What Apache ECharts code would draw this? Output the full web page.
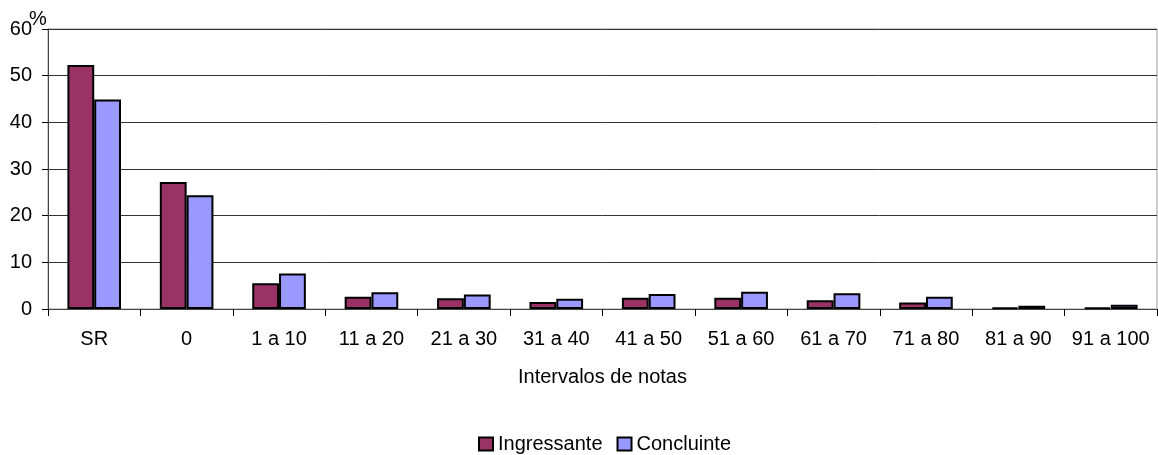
<!DOCTYPE html>
<html>
<head>
<meta charset="utf-8">
<script src="https://cdn.jsdelivr.net/npm/echarts@6/dist/echarts.min.js"></script>
<style>
  html, body { margin: 0; padding: 0; background: #fff; }
  #chart { width: 1158px; height: 455px; }
</style>
</head>
<body>
<div id="chart"></div>
<script>
// faixas de notas
const categories = ['SR', '0', '1 a 10', '11 a 20', '21 a 30', '31 a 40', '41 a 50', '51 a 60', '61 a 70', '71 a 80', '81 a 90', '91 a 100']
const ingressante = [52.3, 27.2, 5.5, 2.6, 2.3, 1.5, 2.4, 2.4, 1.9, 1.4, 0.3, 0.3]
const concluinte = [44.9, 24.4, 7.6, 3.6, 3.1, 2.2, 3.2, 3.7, 3.4, 2.6, 0.7, 0.9]
const yTicks = [0, 10, 20, 30, 40, 50, 60]

const font = 'Liberation Sans, Arial, sans-serif'
const chart = echarts.init(document.getElementById('chart'))

chart.setOption({
  animation: false,
  textStyle: { fontFamily: font },
  grid: {
    left: 48, top: 29, right: 1, bottom: 146,
    show: true, borderColor: '#999', borderWidth: 1
  },
  // unidade do eixo y ("%"), encostada no rótulo 60
  graphic: [{
    type: 'text',
    left: 29,
    top: 9,
    style: { text: '%', fontSize: 20, fontFamily: font, fill: '#000' }
  }],
  legend: {
    top: 429,
    left: 473,
    itemWidth: 14,
    itemHeight: 13,
    itemGap: 14,
    icon: 'rect',
    textStyle: { fontSize: 20, color: '#000' },
    data: ['Ingressante', 'Concluinte']
  },
  xAxis: {
    type: 'category',
    data: categories,
    name: 'Intervalos de notas',
    nameLocation: 'middle',
    nameGap: 58,
    nameTextStyle: { fontSize: 20, color: '#000', verticalAlign: 'top' },
    axisLine: { lineStyle: { color: '#444', width: 1 } },
    axisTick: { show: true, interval: 0, length: 7, lineStyle: { color: '#000' } },
    axisLabel: { interval: 0, fontSize: 20, color: '#000', margin: 20 }
  },
  yAxis: {
    type: 'value',
    min: yTicks[0],
    max: yTicks[yTicks.length - 1],
    interval: 10,
    axisLine: { show: true, lineStyle: { color: '#444', width: 1 } },
    axisTick: { show: true, length: 6, lineStyle: { color: '#000' } },
    axisLabel: { fontSize: 20, color: '#000', margin: 16 },
    splitLine: { show: true, lineStyle: { color: '#333', width: 1 } }
  },
  series: [
    {
      name: 'Ingressante',
      type: 'bar',
      data: ingressante,
      barGap: '0%',
      barCategoryGap: '42%',
      itemStyle: { color: '#993366', borderColor: '#000', borderWidth: 2 }
    },
    {
      name: 'Concluinte',
      type: 'bar',
      data: concluinte,
      itemStyle: { color: '#9999FF', borderColor: '#000', borderWidth: 2 }
    }
  ]
})
</script>
</body>
</html>
